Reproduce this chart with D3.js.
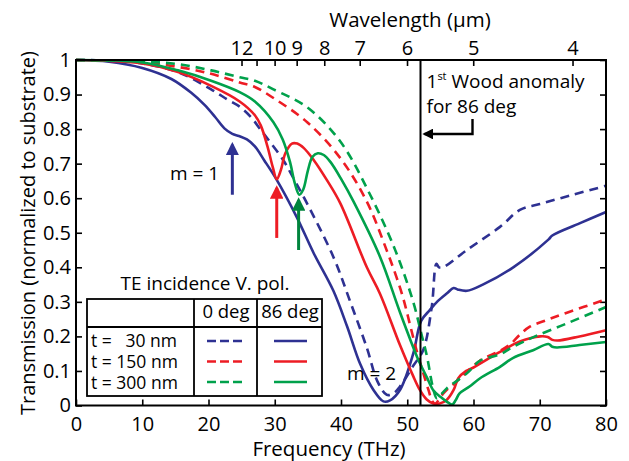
<!DOCTYPE html>
<html>
<head>
<meta charset="utf-8">
<script src="https://d3js.org/d3.v7.min.js"></script>
<style>
  body { margin: 0; background: #fff; }
  svg text { font-family: "Open Sans", "Noto Sans", sans-serif; fill: #000; }
</style>
</head>
<body>
<div id="chart"></div>
<script>
// frequency (THz) vs transmission
var blue86 = [[0,1],[5,0.995],[10,0.977],[14.4,0.945],[17.4,0.905],[19.4,0.87],[21,0.835],[22.4,0.802],[23.6,0.786],[24.6,0.78],[25.8,0.77],[27,0.75],[28.4,0.71],[30.3,0.653],[33.3,0.546],[35.9,0.44],[38.85,0.332],[40.9,0.23],[42.9,0.12],[44.9,0.045],[46.4,0.012],[47.4,0.015],[48.9,0.045],[50.9,0.15],[52.1,0.245],[53.4,0.276],[54.6,0.302],[56,0.325],[57,0.34],[57.6,0.336],[59,0.332],[61.4,0.35],[66,0.4],[71.3,0.48],[71.9,0.492],[76,0.527],[80,0.56]];
var blue0 = [[0,1],[5,0.998],[10,0.99],[15.4,0.965],[20.4,0.915],[22.9,0.885],[24.7,0.865],[26.4,0.835],[27.8,0.80],[29.4,0.76],[31.3,0.71],[32.9,0.655],[34.6,0.595],[38.85,0.43],[41.4,0.3],[43.9,0.167],[45.5,0.07],[46.9,0.031],[47.9,0.035],[48.9,0.055],[50.9,0.115],[52.4,0.16],[53.7,0.286],[54.4,0.41],[54.8,0.40],[55.4,0.40],[59,0.45],[64,0.517],[67,0.566],[70,0.583],[75,0.61],[80,0.636]];
var red86 = [[0,1],[10,0.99],[15.4,0.965],[20.4,0.925],[24.7,0.88],[27,0.84],[27.9,0.81],[28.9,0.75],[29.7,0.69],[30.3,0.655],[30.9,0.68],[31.6,0.73],[32.6,0.758],[33.4,0.758],[34.4,0.745],[35.9,0.71],[37.85,0.653],[39.9,0.585],[43.9,0.40],[45.9,0.323],[48.9,0.175],[50.9,0.085],[51.9,0.045],[52.9,0.018],[53.9,0.006],[54.9,0.006],[55.95,0.016],[57,0.045],[57.7,0.079],[58.9,0.1],[60,0.11],[64,0.155],[67,0.185],[70.1,0.2],[71.2,0.198],[71.9,0.19],[72.7,0.188],[76,0.2],[80,0.218]];
var red0 = [[0,1],[10,0.993],[15.4,0.98],[20.4,0.96],[24.7,0.935],[27,0.922],[29.8,0.89],[34.9,0.82],[39.9,0.716],[43.9,0.59],[46.9,0.449],[48.4,0.37],[49.4,0.31],[50.4,0.235],[51.4,0.16],[52.4,0.095],[53.2,0.045],[53.8,0.012],[54.2,0.005],[55.45,0.035],[56.45,0.054],[57.5,0.07],[61,0.13],[64,0.158],[65.6,0.178],[67,0.205],[68.5,0.228],[71,0.247],[74,0.268],[80,0.307]];
var green86 = [[0,1],[10,0.993],[15.4,0.97],[20.4,0.94],[24.7,0.907],[27,0.88],[29.8,0.82],[31.2,0.77],[32.3,0.705],[33,0.645],[33.7,0.61],[34.3,0.625],[35,0.68],[35.7,0.72],[36.5,0.73],[37.4,0.725],[38.4,0.705],[40.1,0.653],[41.9,0.59],[45.9,0.43],[48.9,0.27],[51.5,0.14],[52.1,0.115],[53,0.08],[53.9,0.045],[55,0.025],[55.9,0.012],[56.8,0.003],[57.3,0.015],[57.9,0.035],[59.4,0.055],[61,0.079],[64,0.112],[66,0.138],[69,0.16],[71.3,0.178],[71.9,0.17],[72.6,0.168],[76,0.175],[80,0.184]];
var green0 = [[0,1],[10,0.996],[15.4,0.988],[20.4,0.97],[24.7,0.95],[27,0.94],[29.8,0.915],[34.9,0.863],[39.9,0.764],[44.4,0.61],[48.2,0.449],[50.9,0.3],[52.1,0.21],[53,0.14],[53.9,0.05],[54.45,0.021],[55,0.03],[56,0.05],[59,0.093],[61,0.13],[64,0.148],[66,0.17],[69.3,0.2],[74.4,0.24],[80,0.285]];

var series = [
  {name: "t =   30 nm", col: 0, data: blue0,   color: "#2e3192", dash: true},
  {name: "t =   30 nm", col: 1, data: blue86,  color: "#2e3192", dash: false},
  {name: "t = 150 nm",  col: 0, data: red0,    color: "#ed1c24", dash: true},
  {name: "t = 150 nm",  col: 1, data: red86,   color: "#ed1c24", dash: false},
  {name: "t = 300 nm",  col: 0, data: green0,  color: "#00a14b", dash: true},
  {name: "t = 300 nm",  col: 1, data: green86, color: "#00a14b", dash: false}
];
var rowNames = ["t =   30 nm", "t = 150 nm", "t = 300 nm"];
var colNames = ["0 deg", "86 deg"];

var freqTicks = [0,10,20,30,40,50,60,70,80];
var transTicks = [0,0.1,0.2,0.3,0.4,0.5,0.6,0.7,0.8,0.9,1];
var wlTicks = [12,11,10,9,8,7,6,5,4];   // µm, 11 has no label
var woodFreq = 52;                        // 1st Wood anomaly, 86 deg
// resonance arrows: frequency, start and end transmission
var arrows = [
  {f: 23.6, from: 0.61, to: 0.755, color: "#2e3192"},
  {f: 30.3, from: 0.485, to: 0.63, color: "#ed1c24"},
  {f: 33.6, from: 0.45, to: 0.595, color: "#00843d"}
];

var width = 629, height = 461;
var margin = {top: 60, right: 23, bottom: 55.5, left: 76};
var x = d3.scaleLinear().domain([0, 80]).range([margin.left, width - margin.right]);
var y = d3.scaleLinear().domain([0, 1]).range([height - margin.bottom, margin.top]);
var c = 299.79; // THz·µm

var svg = d3.select("#chart").append("svg").attr("width", width).attr("height", height);

var defs = svg.append("defs");
arrows.concat([{color: "#000"}]).forEach(function(a, i){
  defs.append("marker").attr("id", "head" + i)
    .attr("viewBox", "0 0 10 10").attr("refX", 8).attr("refY", 5)
    .attr("markerWidth", 4.5).attr("markerHeight", 4.5).attr("markerUnits", "strokeWidth")
    .attr("orient", "auto")
    .append("path").attr("d", "M0,0L10,5L0,10Z").attr("fill", a.color);
});

// axes
var axBottom = svg.append("g").attr("transform", "translate(0," + y(0) + ")")
  .call(d3.axisBottom(x).tickValues(freqTicks).tickSizeInner(-6).tickSizeOuter(0).tickPadding(11));
var axLeft = svg.append("g").attr("transform", "translate(" + x(0) + ",0)")
  .call(d3.axisLeft(y).tickValues(transTicks).tickSizeInner(-6).tickSizeOuter(0).tickPadding(5)
    .tickFormat(function(d){ return d === 0 || d === 1 ? d3.format("d")(d) : d3.format(".1f")(d); }));
var axRight = svg.append("g").attr("transform", "translate(" + x(80) + ",0)")
  .call(d3.axisRight(y).tickValues(transTicks).tickSizeInner(-6).tickSizeOuter(0).tickFormat(""));
var axTop = svg.append("g").attr("transform", "translate(0," + y(1) + ")")
  .call(d3.axisTop(x).tickValues(wlTicks.map(function(l){ return c / l; }))
    .tickSizeInner(-6).tickSizeOuter(0).tickPadding(5)
    .tickFormat(function(d){ var l = Math.round(c / d); return l === 11 ? "" : l; }));
[axBottom, axLeft, axRight, axTop].forEach(function(g){
  g.select(".domain").remove();
  g.selectAll(".tick line").attr("stroke", "#000").attr("stroke-width", 1.6);
  g.selectAll("text").attr("font-size", 20).attr("font-family", "'Open Sans', sans-serif");
});

svg.append("text").attr("x", 410).attr("y", 27).attr("text-anchor", "middle")
  .attr("font-size", 20.5).text("Wavelength (µm)");
svg.append("text").attr("x", 329).attr("y", 456).attr("text-anchor", "middle")
  .attr("font-size", 20.5).text("Frequency (THz)");
svg.append("text").attr("transform", "translate(35,233) rotate(-90)").attr("text-anchor", "middle")
  .attr("font-size", 20).text("Transmission (normalized to substrate)");

// curves
var line = d3.line().curve(d3.curveCatmullRom.alpha(0.5))
  .x(function(d){ return x(d[0]); }).y(function(d){ return y(d[1]); });
svg.append("g").selectAll("path").data(series).enter().append("path")
  .attr("d", function(d){ return line(d.data); })
  .attr("fill", "none")
  .attr("stroke", function(d){ return d.color; })
  .attr("stroke-width", 2.6)
  .attr("stroke-dasharray", function(d){ return d.dash ? "9,6" : null; });

// Wood anomaly
svg.append("line").attr("x1", x(woodFreq)).attr("x2", x(woodFreq)).attr("y1", y(1)).attr("y2", y(0))
  .attr("stroke", "#000").attr("stroke-width", 2);
var woodText = svg.append("text").attr("x", x(woodFreq) + 6).attr("y", 88).attr("font-size", 19);
woodText.append("tspan").text("1");
woodText.append("tspan").attr("font-size", 11).attr("dy", -8).text("st");
woodText.append("tspan").attr("dy", 8).text(" Wood anomaly");
svg.append("text").attr("x", x(woodFreq) + 6).attr("y", 113).attr("font-size", 19).text("for 86 deg");
svg.append("path")
  .attr("d", "M" + (x(woodFreq) + 52) + ",119V" + 134 + "H" + (x(woodFreq) + 4))
  .attr("fill", "none").attr("stroke", "#000").attr("stroke-width", 2.4)
  .attr("marker-end", "url(#head3)");

// resonance arrows
arrows.forEach(function(a, i){
  svg.append("line").attr("x1", x(a.f)).attr("x2", x(a.f)).attr("y1", y(a.from)).attr("y2", y(a.to))
    .attr("stroke", a.color).attr("stroke-width", 3).attr("marker-end", "url(#head" + i + ")");
});
svg.append("text").attr("x", 170).attr("y", 180).attr("font-size", 19).text("m = 1");
svg.append("text").attr("x", 347).attr("y", 380).attr("font-size", 19).text("m = 2");

// legend table
var lg = svg.append("g");
var L = {x0: 87, x1: 194, x2: 257, x3: 322, y0: 299, y1: 327, y2: 396};
lg.append("rect").attr("x", L.x0).attr("y", L.y0).attr("width", L.x3 - L.x0).attr("height", L.y2 - L.y0)
  .attr("fill", "#fff").attr("stroke", "#000").attr("stroke-width", 1.8);
lg.append("line").attr("x1", L.x0).attr("x2", L.x3).attr("y1", L.y1).attr("y2", L.y1).attr("stroke", "#000").attr("stroke-width", 1.8);
[L.x1, L.x2].forEach(function(xx){
  lg.append("line").attr("x1", xx).attr("x2", xx).attr("y1", L.y0).attr("y2", L.y2).attr("stroke", "#000").attr("stroke-width", 1.8);
});
lg.append("text").attr("x", 205).attr("y", 290).attr("text-anchor", "middle").attr("font-size", 19).text("TE incidence V. pol.");
colNames.forEach(function(n, i){
  lg.append("text").attr("x", i === 0 ? 226 : 290).attr("y", 318).attr("text-anchor", "middle")
    .attr("font-size", 18.5).text(n);
});
rowNames.forEach(function(n, i){
  lg.append("text").attr("x", 91).attr("y", 347 + i * 20.8).attr("font-size", 17.5)
    .attr("xml:space", "preserve").style("white-space", "pre").text(n);
});
series.forEach(function(s){
  var r = rowNames.indexOf(s.name);
  var yy = 341 + r * 20.5;
  var xa = s.col === 0 ? 207 : 274, xb = s.col === 0 ? 242 : 307;
  lg.append("line").attr("x1", xa).attr("x2", xb).attr("y1", yy).attr("y2", yy)
    .attr("stroke", s.color).attr("stroke-width", 2.6)
    .attr("stroke-dasharray", s.dash ? "9,4" : null);
});

// frame
svg.append("rect").attr("x", x(0)).attr("y", y(1)).attr("width", x(80) - x(0)).attr("height", y(0) - y(1))
  .attr("fill", "none").attr("stroke", "#000").attr("stroke-width", 2);
</script>
</body>
</html>
